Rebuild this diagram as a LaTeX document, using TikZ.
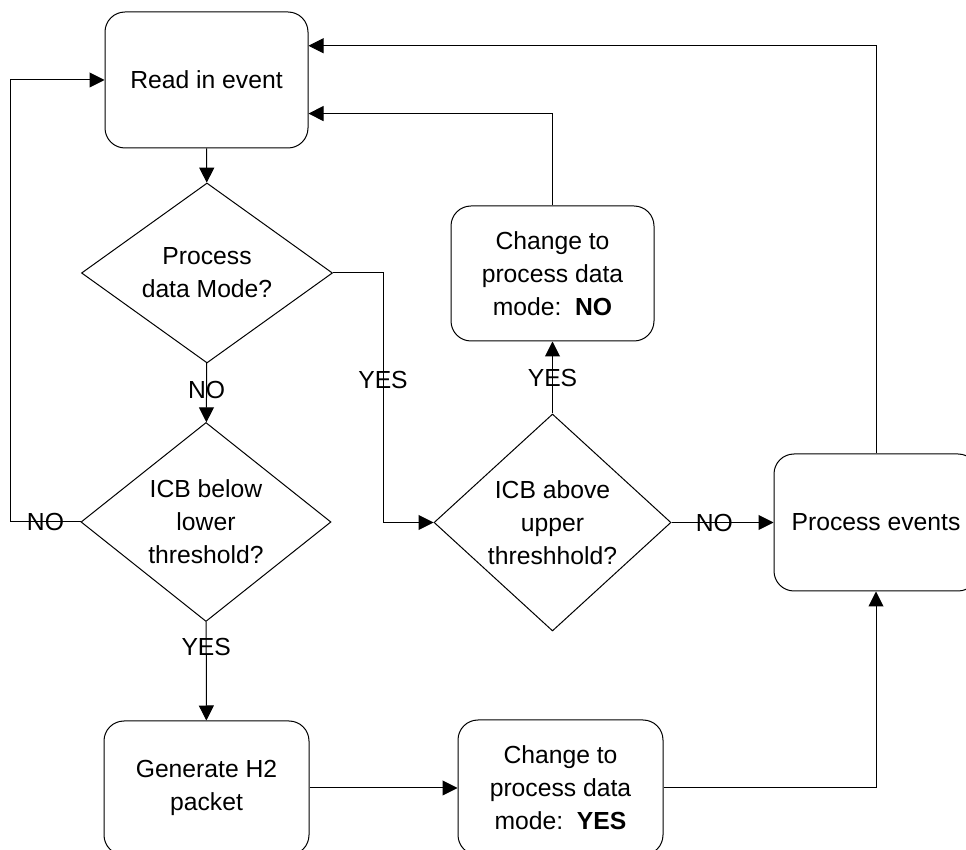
\documentclass[tikz,border=0pt]{standalone}
\usepackage{fontspec}
\setmainfont{Liberation Sans}
\usepackage{tikz}
\usetikzlibrary{arrows.meta, shapes.geometric, calc}
\tikzset{
  stepbox/.style={rectangle, rounded corners=10pt, draw=black, line width=0.5pt,
                  align=center, inner sep=0pt},
  decision/.style={diamond, draw=black, line width=0.5pt, align=center, inner sep=0pt},
  flow/.style={line width=0.5pt, -{Triangle[length=7.5pt, width=7.5pt]}},
  lbl/.style={inner sep=0pt},
}

\begin{document}
\begin{tikzpicture}[x=0.5pt, y=-0.5pt, font=\fontsize{12.35pt}{16.5pt}\selectfont]
    \path[use as bounding box, fill=white] (0,0) rectangle (966,850);
    % Steps
    \node[stepbox, minimum width=101.5pt, minimum height=68pt] (read) at (206.5,80) {Read in event};
    \node[decision, aspect=1.39, minimum width=125.5pt, minimum height=90pt] (mode) at (207,273) {Process\\data Mode?};
    \node[decision, aspect=1.26, minimum width=125pt, minimum height=99.5pt] (below) at (206,522) {ICB below\\lower\\threshold?};
    \node[stepbox, minimum width=102.5pt, minimum height=67pt] (gen) at (206.5,788) {Generate H2\\packet};
    \node[stepbox, minimum width=102.5pt, minimum height=67.5pt] (setyes) at (560.5,787.5) {Change to\\process data\\mode:\ \ \textbf{YES}};
    \node[decision, aspect=1.09, minimum width=118.5pt, minimum height=108.5pt] (above) at (552.5,522.5) {ICB above\\upper\\threshhold?};
    \node[stepbox, minimum width=101.5pt, minimum height=67.5pt] (setno) at (552.5,273.5) {Change to\\process data\\mode:\ \ \textbf{NO}};
    \node[stepbox, minimum width=102pt, minimum height=68.5pt] (proc) at (876,522.5) {Process events};
    % Flow
    \draw[flow] (read) -- (mode);
    \draw[flow] (mode) -- node[lbl, pos=0.45] (no1) {NO} (below);
    \draw[flow] (mode.east) -- ++(50,0) coordinate (c1)
        -- node[lbl, pos=0.43] (yes1) {YES} (c1 |- above.west) -- (above.west);
    \draw[flow] (below.west) -- node[lbl] (no2) {NO} ++(-70,0) |- (read.west);
    \draw[flow] (below) -- node[lbl, pos=0.25] (yes2) {YES} (gen);
    \draw[flow] (gen.east) -- (gen.east -| setyes.west);
    \draw[flow] (setyes.east) -| (proc.south);
    \draw[flow] (above.east) -- node[lbl, pos=0.42] (no3) {NO} (proc.west);
    \draw[flow] (above) -- node[lbl, pos=0.49] (yes3) {YES} (setno);
    \draw[flow] (setno.north) |- ($(read.north east)!0.745!(read.south east)$);
    \draw[flow] (proc.north) |- ($(read.north east)!0.25!(read.south east)$);
\end{tikzpicture}
\end{document}
